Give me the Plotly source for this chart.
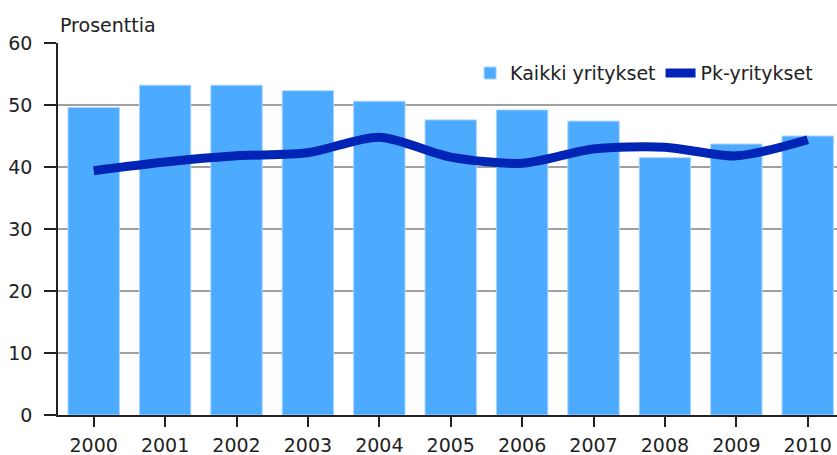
import plotly.graph_objects as go

years = ["2000", "2001", "2002", "2003", "2004", "2005", "2006", "2007", "2008", "2009", "2010"]
kaikki = [49.6, 53.2, 53.2, 52.3, 50.6, 47.6, 49.2, 47.4, 41.5, 43.7, 45.0]
pk = [39.4, 40.8, 41.8, 42.3, 44.8, 41.6, 40.6, 42.9, 43.2, 41.8, 44.4]
y_ticks = [0, 10, 20, 30, 40, 50, 60]

FONT = "DejaVu Sans"

fig = go.Figure()
fig.add_trace(go.Bar(
    x=years, y=kaikki, name="Kaikki yritykset",
    marker=dict(color="#4dabff", line=dict(color="#a8d4ff", width=1)),
))
fig.add_trace(go.Scatter(
    x=years, y=pk, name="Pk-yritykset", mode="lines",
    line=dict(color="#0024b6", width=9, shape="spline", smoothing=0.8),
))

fig.update_layout(
    width=837, height=455,
    margin=dict(l=58, r=0, t=43, b=40, autoexpand=False),
    paper_bgcolor="white", plot_bgcolor="white",
    font=dict(family=FONT, size=19, color="#222222"),
    bargap=0.28,
    showlegend=True,
    legend=dict(
        orientation="h", x=0.529, xanchor="left", y=0.919, yanchor="middle",
        bgcolor="rgba(0,0,0,0)", font=dict(family=FONT, size=19, color="#222222"),
        traceorder="normal",
    ),
    xaxis=dict(
        type="category", range=[-0.5, 10.41], automargin=False,
        showline=True, linecolor="#222222", linewidth=1.5,
        ticks="outside", ticklen=10, tickwidth=1.5, tickcolor="#222222",
        showgrid=False, ticklabelstandoff=2,
    ),
    yaxis=dict(
        range=[0, 60], tickvals=y_ticks, automargin=False,
        showline=True, linecolor="#222222", linewidth=1.5,
        ticks="outside", ticklen=12, tickwidth=1.5, tickcolor="#222222",
        showgrid=True, gridcolor="#a0a0a0", gridwidth=1.5,
        zeroline=False, ticklabelstandoff=8,
    ),
    annotations=[dict(
        text="Prosenttia", xref="paper", yref="paper", x=0, y=1.048,
        xanchor="left", yanchor="middle", showarrow=False,
        font=dict(family=FONT, size=19, color="#222222"),
    )],
)

fig.write_html(
    "out.html",
    config={"displayModeBar": False},
    post_script="document.body.style.margin='0';document.body.style.overflow='hidden';",
)
